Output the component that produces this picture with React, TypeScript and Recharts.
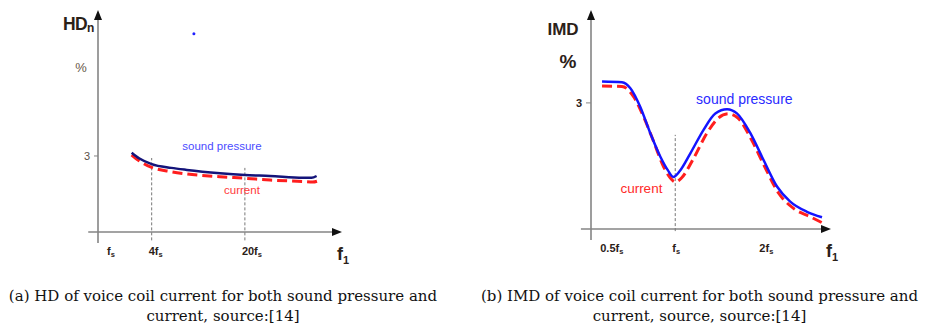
import React from "react";
import { LineChart, Line, XAxis, YAxis, ReferenceLine, ReferenceDot } from "recharts";

// ---- (a) harmonic distortion vs. frequency (position units along f1 axis) ----
const HD_X_TICKS = [4.9, 22, 60.2];
const HD_X_LABELS = [
  { main: "f", sub: "s" },
  { main: "4f", sub: "s" },
  { main: "20f", sub: "s" },
];
const HD_Y_TICKS = [3];
const HD_Y_MAX = 8.76;

const HD_SOUND_X = [13.8, 17, 22, 30, 36.4, 50, 60.2, 70.5, 84, 87.5, 89.6];
const HD_SOUND_Y = [3.13, 2.9, 2.68, 2.53, 2.45, 2.32, 2.25, 2.21, 2.14, 2.14, 2.21];
const HD_CURRENT_X = [13.8, 17, 22, 30, 36.4, 50, 60.2, 70.5, 84, 88, 90.6];
const HD_CURRENT_Y = [3.04, 2.8, 2.55, 2.38, 2.29, 2.18, 2.12, 2.05, 1.99, 1.97, 2.03];

// ---- (b) intermodulation distortion vs. frequency ----
const IMD_X_TICKS = [5.1, 35.1, 71.4];
const IMD_X_LABELS = [
  { main: "0.5f", sub: "s" },
  { main: "f", sub: "s" },
  { main: "2f", sub: "s" },
];
const IMD_Y_TICKS = [3];
const IMD_Y_MAX = 5.21;

const IMD_SOUND_X = [4.6, 12.9, 16.4, 20.5, 24.7, 28.9, 32, 34.3, 37, 41.4, 46.9, 51.8, 56.7, 60.8, 66.4, 71.9, 77.5, 83, 90, 96.25];
const IMD_SOUND_Y = [3.51, 3.49, 3.35, 2.91, 2.28, 1.72, 1.4, 1.24, 1.38, 1.8, 2.36, 2.75, 2.85, 2.75, 2.28, 1.64, 1.01, 0.65, 0.41, 0.28];
const IMD_CURRENT_X = [4.6, 12.9, 17.75, 21.9, 26.1, 30.25, 33, 35.1, 37.8, 42.75, 48.3, 53.1, 57.2, 61.25, 66.9, 72.4, 78.2, 84.4, 91.4, 96.25];
const IMD_CURRENT_Y = [3.4, 3.39, 3.15, 2.67, 2.08, 1.48, 1.22, 1.12, 1.22, 1.68, 2.28, 2.64, 2.74, 2.64, 2.12, 1.48, 0.85, 0.49, 0.29, 0.15];

const toPoints = (xs: number[], ys: number[]) => xs.map((x, i) => ({ x, y: ys[i] }));

const hdSound = toPoints(HD_SOUND_X, HD_SOUND_Y);
const hdCurrent = toPoints(HD_CURRENT_X, HD_CURRENT_Y);
const imdSound = toPoints(IMD_SOUND_X, IMD_SOUND_Y);
const imdCurrent = toPoints(IMD_CURRENT_X, IMD_CURRENT_Y);

const SANS = "'Liberation Sans', Arial, sans-serif";
const LABEL_DARK = "#2b2118";
const AXIS_GREY = "#858585";

// Axis line with an arrow head at its far end
const ArrowAxis = (props: any) => {
  const { x1, y1, x2, y2 } = props;
  const ang = Math.atan2(y2 - y1, x2 - x1);
  const L = 10;
  const W = 4;
  const bx = x2 - L * Math.cos(ang);
  const by = y2 - L * Math.sin(ang);
  const px = -Math.sin(ang) * W;
  const py = Math.cos(ang) * W;
  return (
    <g>
      <line x1={x1} y1={y1} x2={bx} y2={by} stroke={AXIS_GREY} strokeWidth={1.6} />
      <polygon points={`${x2},${y2} ${bx + px},${by + py} ${bx - px},${by - py}`} fill="#111" />
    </g>
  );
};

const makeXTick = (ticks: number[], labels: { main: string; sub: string }[]) => (props: any) => {
  const { x, y, payload } = props;
  const idx = ticks.indexOf(payload.value);
  const lbl = labels[idx];
  if (!lbl) return null;
  return (
    <text x={x - 3} y={y + 23} textAnchor="start" fontFamily={SANS} fontWeight="bold" fontSize={11} fill={LABEL_DARK}>
      {lbl.main}
      <tspan fontSize={7.5} dy={2}>{lbl.sub}</tspan>
    </text>
  );
};

const makeYTick = (size: number, weight: string, color: string) => (props: any) => {
  const { x, y, payload } = props;
  return (
    <text x={x} y={y + size * 0.36} textAnchor="end" fontFamily={SANS} fontWeight={weight} fontSize={size} fill={color}>
      {payload.value}
    </text>
  );
};

const F1Label = (props: any) => {
  const { viewBox } = props;
  const x = viewBox.x + viewBox.width - 5;
  const y = viewBox.y + 28;
  return (
    <text x={x} y={y} fontFamily={SANS} fontWeight="bold" fontSize={18} fill={LABEL_DARK}>
      f<tspan fontSize={11} dy={4}>1</tspan>
    </text>
  );
};

const HdYTitle = (props: any) => {
  const { viewBox } = props;
  const x = viewBox.x + viewBox.width;
  return (
    <g fontFamily={SANS}>
      <text x={x - 35} y={30} fontWeight="bold" fontSize={17.5} fill={LABEL_DARK} letterSpacing={-0.6}>
        HD<tspan fontSize={12} dy={2}>n</tspan>
      </text>
      <text x={x - 17} y={72} textAnchor="middle" fontSize={13} fill="#6a5a4a">%</text>
    </g>
  );
};

const ImdYTitle = (props: any) => {
  const { viewBox } = props;
  const x = viewBox.x + viewBox.width;
  return (
    <g fontFamily={SANS} fontWeight="bold" fill={LABEL_DARK}>
      <text x={x - 28} y={35} textAnchor="middle" fontSize={17}>IMD</text>
      <text x={x - 23} y={68} textAnchor="middle" fontSize={19}>%</text>
    </g>
  );
};

const textMark = (text: string, color: string, size: number) => (props: any) => (
  <text x={props.cx} y={props.cy} textAnchor="middle" fontFamily={SANS} fontSize={size} fill={color}>
    {text}
  </text>
);

const Caption = ({ left, width, lines }: { left: number; width: number; lines: string[] }) => (
  <div
    style={{
      position: "absolute",
      left,
      top: 286,
      width,
      textAlign: "center",
      fontFamily: "'DejaVu Serif', serif",
      fontSize: 15,
      lineHeight: "20px",
      color: "#111",
      whiteSpace: "nowrap",
    }}
  >
    {lines.map((l, i) => (
      <div key={i}>{l}</div>
    ))}
  </div>
);

export default function App() {
  return (
    <div style={{ position: "absolute", left: 0, top: 0, width: 928, height: 329, background: "#fff", overflow: "hidden" }}>
      <div style={{ position: "absolute", left: 0, top: 0 }}>
        <LineChart width={464} height={270} margin={{ top: 10, right: 122, bottom: 8, left: 68 }}>
          <XAxis
            dataKey="x"
            type="number"
            domain={[0, 100]}
            ticks={HD_X_TICKS}
            interval={0}
            height={30}
            axisLine={false}
            tickLine={false}
            tickSize={0}
            tickMargin={0}
            tick={makeXTick(HD_X_TICKS, HD_X_LABELS)}
            label={<F1Label />}
          />
          <YAxis
            type="number"
            domain={[0, HD_Y_MAX]}
            ticks={HD_Y_TICKS}
            interval={0}
            width={30}
            axisLine={false}
            tickSize={4}
            tickMargin={4}
            tickLine={{ stroke: AXIS_GREY }}
            tick={makeYTick(11, "normal", "#5a5048")}
            label={<HdYTitle />}
          />
          <ReferenceLine segment={[{ x: -4, y: 0 }, { x: 100, y: 0 }]} ifOverflow="visible" shape={<ArrowAxis />} />
          <ReferenceLine segment={[{ x: 0, y: -0.43 }, { x: 0, y: HD_Y_MAX }]} ifOverflow="visible" shape={<ArrowAxis />} />
          <ReferenceLine segment={[{ x: 22, y: -0.33 }, { x: 22, y: 2.92 }]} ifOverflow="visible" stroke="#777" strokeDasharray="3 2" strokeWidth={1} />
          <ReferenceLine segment={[{ x: 60.2, y: -0.33 }, { x: 60.2, y: 2.53 }]} ifOverflow="visible" stroke="#777" strokeDasharray="3 2" strokeWidth={1} />
          <Line data={hdCurrent} dataKey="y" type="monotone" stroke="#ff1e1e" strokeWidth={3} strokeDasharray="10 5" dot={false} isAnimationActive={false} />
          <Line data={hdSound} dataKey="y" type="monotone" stroke="#14147a" strokeWidth={2.5} dot={false} isAnimationActive={false} />
          <ReferenceDot x={50.8} y={3.24} r={0} ifOverflow="visible" shape={textMark("sound pressure", "#4b4bff", 11.5)} />
          <ReferenceDot x={59} y={1.5} r={0} ifOverflow="visible" shape={textMark("current", "#ff3a3a", 11.5)} />
          <ReferenceDot x={39.3} y={7.82} r={1.5} fill="#2020ff" stroke="none" ifOverflow="visible" />
        </LineChart>
      </div>

      <div style={{ position: "absolute", left: 464, top: 0 }}>
        <LineChart width={464} height={270} margin={{ top: 10, right: 97, bottom: 11, left: 97 }}>
          <XAxis
            dataKey="x"
            type="number"
            domain={[0, 100]}
            ticks={IMD_X_TICKS}
            interval={0}
            height={30}
            axisLine={false}
            tickLine={false}
            tickSize={0}
            tickMargin={0}
            tick={makeXTick(IMD_X_TICKS, IMD_X_LABELS)}
            label={<F1Label />}
          />
          <YAxis
            type="number"
            domain={[0, IMD_Y_MAX]}
            ticks={IMD_Y_TICKS}
            interval={0}
            width={30}
            axisLine={false}
            tickSize={5}
            tickMargin={4}
            tickLine={{ stroke: AXIS_GREY }}
            tick={makeYTick(11, "bold", LABEL_DARK)}
            label={<ImdYTitle />}
          />
          <ReferenceLine segment={[{ x: -4.2, y: 0 }, { x: 100, y: 0 }]} ifOverflow="visible" shape={<ArrowAxis />} />
          <ReferenceLine segment={[{ x: 0, y: -0.26 }, { x: 0, y: IMD_Y_MAX }]} ifOverflow="visible" shape={<ArrowAxis />} />
          <ReferenceLine segment={[{ x: 35.1, y: -0.05 }, { x: 35.1, y: 2.24 }]} ifOverflow="visible" stroke="#777" strokeDasharray="3 2" strokeWidth={1} />
          <Line data={imdCurrent} dataKey="y" type="monotone" stroke="#ff1e1e" strokeWidth={3} strokeDasharray="10 5" dot={false} isAnimationActive={false} />
          <Line data={imdSound} dataKey="y" type="monotone" stroke="#1414ff" strokeWidth={2.5} dot={false} isAnimationActive={false} />
          <ReferenceDot x={63.9} y={2.98} r={0} ifOverflow="visible" shape={textMark("sound pressure", "#2a2aff", 14)} />
          <ReferenceDot x={21} y={0.86} r={0} ifOverflow="visible" shape={textMark("current", "#ff2a2a", 13.5)} />
        </LineChart>
      </div>

      <Caption left={0} width={446} lines={["(a) HD of voice coil current for both sound pressure and", "current, source:[14]"]} />
      <Caption left={476} width={447} lines={["(b) IMD of voice coil current for both sound pressure and", "current, source, source:[14]"]} />
    </div>
  );
}
